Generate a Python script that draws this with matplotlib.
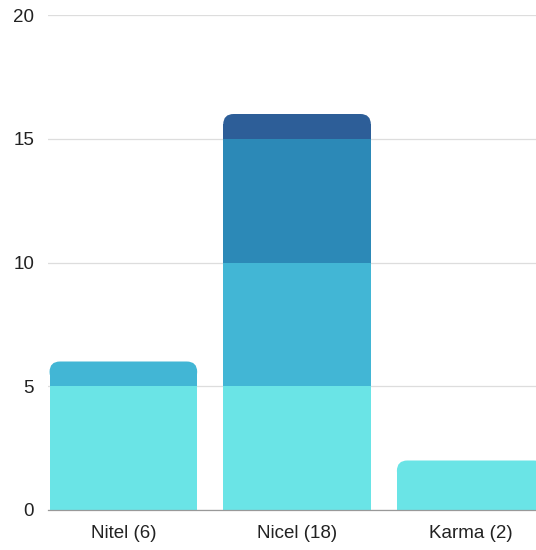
import matplotlib
matplotlib.use("Agg")
import matplotlib.pyplot as plt
from matplotlib.patches import FancyBboxPatch
import numpy as np

categories = ["Nitel (6)", "Nicel (18)", "Karma (2)"]
series1 = [5, 5, 2]
series2 = [1, 5, 0]
series3 = [0, 5, 0]
series4 = [0, 1, 0]
colors = ["#6AE4E6", "#42B6D5", "#2C89B7", "#2D5E98"]
yticks = [0, 5, 10, 15, 20]

plt.rcParams['font.family'] = ['Liberation Sans', 'DejaVu Sans']

fig = plt.figure(figsize=(5.36, 5.5), dpi=100)
ax = fig.add_axes([48/536, 40/550, 1 - 48/536, 495/550])

x = np.arange(len(categories))
width = 0.85
layers = [series1, series2, series3, series4]
rx = 0.06   # corner radius in x data units
ry = 0.42   # corner radius in y data units

totals = np.sum(layers, axis=0)
bottom = np.zeros(len(categories))
for li, layer in enumerate(layers):
    for i, v in enumerate(layer):
        if v <= 0:
            continue
        b = bottom[i]
        top = b + v
        if np.isclose(top, totals[i]):
            ax.bar(x[i], v - ry, width=width, bottom=b, color=colors[li],
                   linewidth=0, zorder=2)
            patch = FancyBboxPatch((x[i] - width/2, max(b, top - 2*ry)), width,
                                   min(v, 2*ry),
                                   boxstyle=f"round,pad=0,rounding_size={rx}",
                                   mutation_aspect=ry/rx,
                                   facecolor=colors[li], edgecolor='none',
                                   zorder=2)
            ax.add_patch(patch)
        else:
            ax.bar(x[i], v, width=width, bottom=b, color=colors[li],
                   linewidth=0, zorder=2)
    bottom += np.array(layer)

ax.set_xlim(-0.434, 2.376)
ax.set_ylim(0, 20)
ax.set_yticks(yticks)
ax.set_yticklabels([str(t) for t in yticks])
ax.set_xticks(x)
ax.set_xticklabels(categories)
ax.tick_params(axis='both', length=0, labelsize=13.5, colors='#222222')
ax.tick_params(axis='y', pad=10)
ax.tick_params(axis='x', pad=10.5)
ax.grid(axis='y', color='#dddddd', linewidth=0.9, zorder=0)
ax.set_axisbelow(True)
for s in ['top', 'right', 'left']:
    ax.spines[s].set_visible(False)
ax.spines['bottom'].set_color('#999999')
ax.spines['bottom'].set_linewidth(0.9)

fig.savefig("out.png", dpi=100, facecolor='white')
